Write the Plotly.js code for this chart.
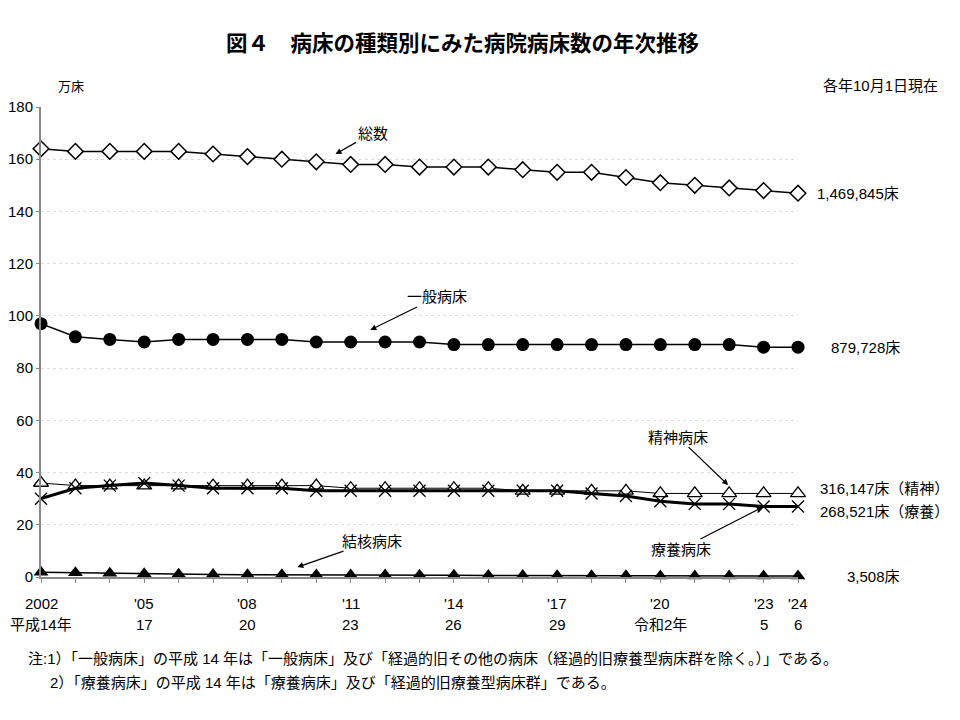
<!DOCTYPE html>
<html><head><meta charset="utf-8">
<script src="https://cdn.plot.ly/plotly-3.0.1.min.js"></script>
<style>body{margin:0;background:#fff}#c{width:960px;height:720px}</style>
</head><body><div id="c"></div>
<script>
const years = [2002,2003,2004,2005,2006,2007,2008,2009,2010,2011,2012,2013,2014,2015,2016,2017,2018,2019,2020,2021,2022,2023,2024];
const total = [164,163,163,163,163,162,161,160,159,158,158,157,157,157,156,155,155,153,151,150,149,148,147];
const general = [97,92,91,90,91,91,91,91,90,90,90,90,89,89,89,89,89,89,89,89,89,88,88];
const psych = [36,35,35,35,35,35,35,35,35,34,34,34,34,34,33,33,33,33,32,32,32,32,32];
const ltc = [30,34,35,36,35,34,34,34,33,33,33,33,33,33,33,33,32,31,29,28,28,27,27];
const tb = [1.8,1.6,1.4,1.2,1.1,1.0,0.9,0.9,0.8,0.8,0.8,0.7,0.7,0.6,0.6,0.5,0.5,0.5,0.4,0.4,0.4,0.4,0.35];
const tickYears = [2002,2005,2008,2011,2014,2017,2020,2023,2024];
const tickRow1 = ['2002',"'05","'08","'11","'14","'17","'20","'23","'24"];
const tickRow2 = ['平成14年','17','20','23','26','29','令和2年','5','6'];
const endLabels = ['1,469,845床','879,728床','316,147床（精神）','268,521床（療養）','3,508床'];
const seriesNames = ['総数','一般病床','精神病床','療養病床','結核病床'];

const F = 'Liberation Sans, Arial, Noto Sans CJK JP, sans-serif';
const L = 41, R = 798, T = 107, B = 577;
const px = x => (x - L) / (R - L);
const py = y => (B - y) / (B - T);

const traces = [
  {x:years,y:total,name:seriesNames[0],mode:'lines+markers',line:{color:'#000',width:1.5},
   marker:{symbol:'diamond',size:12,color:'#fff',line:{color:'#000',width:1.5}}},
  {x:years,y:general,name:seriesNames[1],mode:'lines+markers',line:{color:'#000',width:1.5},
   marker:{symbol:'circle',size:13,color:'#000'}},
  {x:years,y:psych,name:seriesNames[2],mode:'lines+markers',line:{color:'#000',width:1},
   marker:{symbol:'triangle-up',size:13,color:'#fff',line:{color:'#000',width:1.3}}},
  {x:years,y:ltc,name:seriesNames[3],mode:'lines+markers',line:{color:'#000',width:3},
   marker:{symbol:'x-thin-open',size:12,color:'#000',line:{color:'#000',width:1.3}}},
  {x:years,y:tb,name:seriesNames[4],mode:'lines+markers',line:{color:'#000',width:1.5},
   marker:{symbol:'triangle-up',size:13,color:'#000'}}
];

const ann = [];
tickYears.forEach((y,i)=>{
  ann.push({x:y,y:0,xref:'x',yref:'y',text:tickRow1[i],showarrow:false,yshift:-26,font:{family:F,size:15,color:'#000'}});
  ann.push({x:y,y:0,xref:'x',yref:'y',text:tickRow2[i],showarrow:false,yshift:-47,font:{family:F,size:15,color:'#000'}});
});
const lab = (t,x,y,ax,ay)=>({x:x,y:y,xref:'x',yref:'y',text:t,showarrow:true,arrowhead:2,arrowsize:1,arrowwidth:1.2,arrowcolor:'#000',
  ax:ax,ay:ay,font:{family:F,size:15,color:'#000'},standoff:0});
ann.push(lab(seriesNames[0],2010.56,162,37,-21));
ann.push(lab(seriesNames[1],2011.57,94.6,67,-33));
ann.push(lab(seriesNames[2],2021.97,35.2,-50,-48));
ann.push(lab(seriesNames[3],2022.98,26.8,-82,42));
ann.push(lab(seriesNames[4],2009.45,3.8,75,-26));
const endY = [total[22],general[22],psych[22],ltc[22],tb[22]];
const endX = [858,865,885,885,873];
const endYs = [0,0,5,-5,0];
endLabels.forEach((t,i)=>{
  ann.push({x:px(endX[i]),xref:'paper',y:endY[i],yref:'y',text:t,showarrow:false,xanchor:'center',yshift:endYs[i],font:{family:F,size:15,color:'#000'}});
});
ann.push({x:px(462),y:py(42),xref:'paper',yref:'paper',text:'<b>図４　病床の種類別にみた病院病床数の年次推移</b>',showarrow:false,font:{family:'Noto Sans CJK JP, sans-serif',size:21.5,color:'#000'},yanchor:'middle'});
ann.push({x:px(56),y:py(87),xref:'paper',yref:'paper',text:'万床',showarrow:false,font:{family:F,size:13,color:'#000'},yanchor:'middle'});
ann.push({x:px(940),y:py(85),xref:'paper',yref:'paper',text:'各年10月1日現在',showarrow:false,xanchor:'right',font:{family:F,size:15,color:'#000'},yanchor:'middle'});
ann.push({x:px(26),y:py(658),xref:'paper',yref:'paper',xanchor:'left',yanchor:'middle',showarrow:false,
  text:'注:1）「一般病床」の平成 14 年は「一般病床」及び「経過的旧その他の病床（経過的旧療養型病床群を除く。）」である。',font:{family:F,size:15,color:'#000'}});
ann.push({x:px(48),y:py(682),xref:'paper',yref:'paper',xanchor:'left',yanchor:'middle',showarrow:false,
  text:'2）「療養病床」の平成 14 年は「療養病床」及び「経過的旧療養型病床群」である。',font:{family:F,size:15,color:'#000'}});

const layout = {
  width:960,height:720,paper_bgcolor:'#fff',plot_bgcolor:'#fff',showlegend:false,
  margin:{l:L,r:960-R,t:T,b:720-B},
  xaxis:{range:[2002,2024],showgrid:false,zeroline:false,showline:true,linecolor:'#888',linewidth:1.5,
    tickvals:years,ticktext:years.map(()=>''),ticks:'outside',ticklen:4,tickcolor:'#888',showticklabels:false},
  yaxis:{range:[0,180],dtick:20,showgrid:true,gridcolor:'#ddd',griddash:'dot',zeroline:false,showline:true,
    linecolor:'#888',linewidth:2,ticks:'outside',ticklen:3,tickcolor:'#888',
    tickfont:{family:F,size:15,color:'#000'}},
  annotations:ann
};
traces.forEach(t=>t.cliponaxis=false);
Plotly.newPlot('c',traces,layout,{staticPlot:true});
</script></body></html>
